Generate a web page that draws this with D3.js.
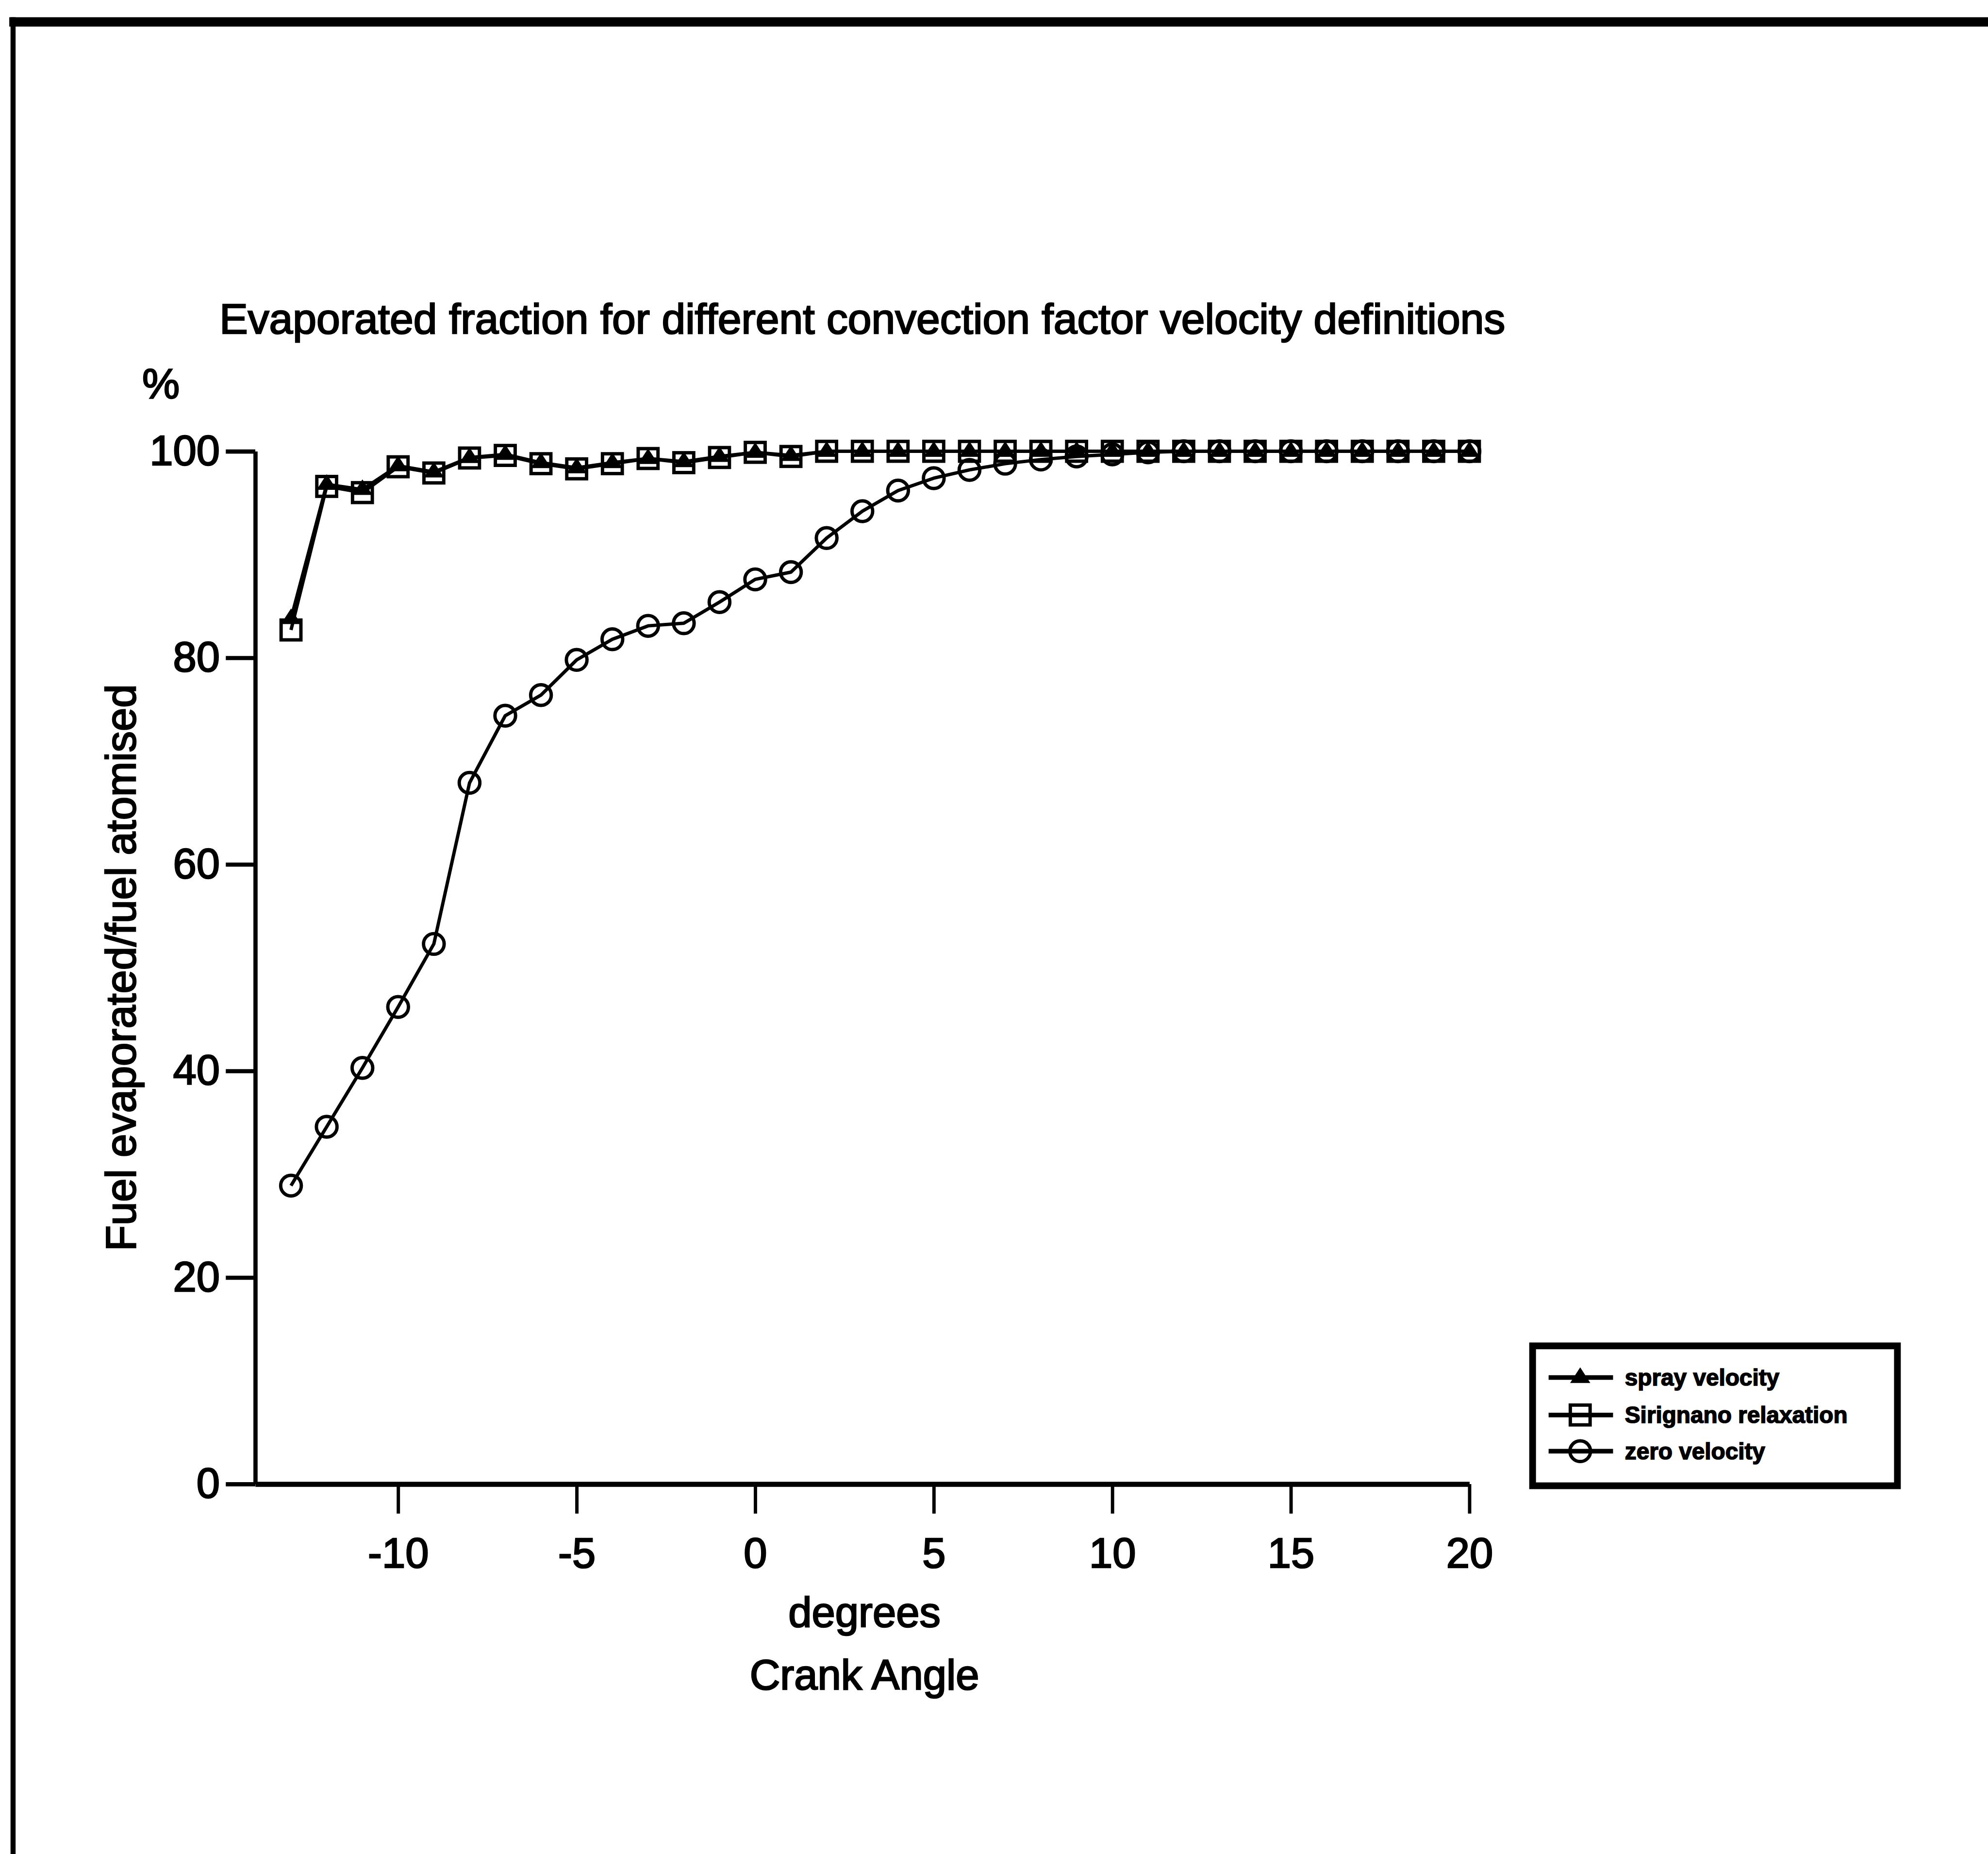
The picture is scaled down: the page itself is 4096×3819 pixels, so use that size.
<!DOCTYPE html>
<html>
<head>
<meta charset="utf-8">
<script src="https://cdn.jsdelivr.net/npm/d3@7"></script>
<style>
  html, body { margin: 0; padding: 0; background: #fff; overflow: hidden; }
</style>
</head>
<body>
<svg id="chart" width="4096" height="3819"></svg>
<script>
// Crank angle (degrees) at which each value was recorded
const crankAngle = [-13, -12, -11, -10, -9, -8, -7, -6, -5, -4, -3, -2, -1, 0, 1, 2, 3, 4, 5, 6,
                    7, 8, 9, 10, 11, 12, 13, 14, 15, 16, 17, 18, 19, 20];

// Fuel evaporated / fuel atomised (%) for each convection factor velocity definition
const sprayVelocity = [83.8, 96.8, 96.3, 98.6, 98.0, 99.4, 99.7, 98.9, 98.4, 98.9, 99.3, 99.0, 99.5, 99.9, 99.6,
                       100, 100, 100, 100, 100, 100, 100, 100, 100, 100, 100, 100, 100, 100, 100, 100, 100, 100, 100];
const sirignanoRelaxation = [82.7, 96.6, 96.0, 98.5, 97.9, 99.35, 99.6, 98.8, 98.3, 98.8, 99.3, 98.9, 99.4, 99.9, 99.5,
                             100, 100, 100, 100, 100, 100, 100, 100, 100, 100, 100, 100, 100, 100, 100, 100, 100, 100, 100];
const zeroVelocity = [28.9, 34.6, 40.3, 46.2, 52.3, 67.9, 74.4, 76.4, 79.8, 81.8, 83.1, 83.35, 85.4, 87.6, 88.3,
                      91.6, 94.2, 96.2, 97.4, 98.2, 98.8, 99.2, 99.5, 99.7, 99.9, 100, 100, 100, 100, 100, 100, 100, 100, 100];

const seriesNames = ["spray velocity", "Sirignano relaxation", "zero velocity"];

// Axis ticks
const xTicks = [-10, -5, 0, 5, 10, 15, 20];
const yTicks = [0, 20, 40, 60, 80, 100];

const titleText = "Evaporated fraction for different convection factor velocity definitions";
const yLabelText = "Fuel evaporated/fuel atomised";
const yUnitText = "%";
const xUnitText = "degrees";
const xLabelText = "Crank Angle";

// ---- layout (drawn on a 4719 x 4400 page, scaled to the window) ----
const W = 4719, H = 4400;
const k = 4096 / W;
const FONT = "'Liberation Sans', Arial, Helvetica, sans-serif";
const INK = "#000";
const TEXT_WEIGHT = 3;   // slight outline so the lettering prints heavy

const svg = d3.select("#chart");
const root = svg.append("g").attr("transform", `scale(${k})`);
root.append("rect").attr("width", W).attr("height", H).attr("fill", "#fff");

// page frame: heavy top rule and left rule
root.append("line").attr("x1", 22).attr("x2", W).attr("y1", 52).attr("y2", 52)
  .attr("stroke", INK).attr("stroke-width", 22);
root.append("line").attr("x1", 31).attr("x2", 31).attr("y1", 41).attr("y2", H)
  .attr("stroke", INK).attr("stroke-width", 12);

const x = d3.scaleLinear().domain([-14, 20]).range([606, 3488]);
const y = d3.scaleLinear().domain([0, 100]).range([3522, 1071]);

// y axis
const yAxis = root.append("g")
  .attr("transform", `translate(${x(-14)},0)`)
  .call(d3.axisLeft(y).tickValues(yTicks).tickSize(70).tickSizeOuter(0)
        .tickPadding(14).tickFormat(d => String(d)));
yAxis.attr("font-family", FONT).attr("font-size", 100);
yAxis.select(".domain").attr("stroke", INK).attr("stroke-width", 10);
yAxis.selectAll(".tick line").attr("stroke", INK).attr("stroke-width", 10);
yAxis.selectAll(".tick text").attr("fill", INK)
  .attr("stroke", INK).attr("stroke-width", TEXT_WEIGHT);

// x axis
const xAxis = root.append("g")
  .attr("transform", `translate(0,${y(0)})`)
  .call(d3.axisBottom(x).tickValues(xTicks).tickSize(70).tickSizeOuter(0)
        .tickPadding(57).tickFormat(d => String(d)));
xAxis.attr("font-family", FONT).attr("font-size", 100);
xAxis.select(".domain").attr("stroke", INK).attr("stroke-width", 12);
xAxis.selectAll(".tick line").attr("stroke", INK).attr("stroke-width", 8);
xAxis.selectAll(".tick text").attr("fill", INK)
  .attr("stroke", INK).attr("stroke-width", TEXT_WEIGHT);

// titles and labels
const txt = (t, px, py, size) => root.append("text").text(t)
  .attr("x", px).attr("y", py)
  .attr("font-family", FONT).attr("font-size", size)
  .attr("text-anchor", "middle").attr("fill", INK)
  .attr("stroke", INK).attr("stroke-width", TEXT_WEIGHT);

txt(titleText, (x.range()[0] + x.range()[1]) / 2, 791, 101);
txt(yUnitText, 382, 945, 100);
txt(xUnitText, 2052, 3861, 100);
txt(xLabelText, 2052, 4009, 100);
txt(yLabelText, 0, 0, 100)
  .attr("transform", `translate(322,${(y(0) + y(100)) / 2}) rotate(-90)`);

// marker shapes
const triPath = "M0,-24L24,13L-24,13Z";
const SQ = 47, CR = 24.5, LINE_W = 8, MARK_W = 8;

function drawMarker(g, kind, cx, cy) {
  if (kind === "triangle") {
    g.append("path").attr("d", triPath).attr("transform", `translate(${cx},${cy})`)
      .attr("fill", INK);
  } else if (kind === "square") {
    g.append("rect").attr("x", cx - SQ / 2).attr("y", cy - SQ / 2)
      .attr("width", SQ).attr("height", SQ)
      .attr("fill", "none").attr("stroke", INK).attr("stroke-width", MARK_W);
  } else {
    g.append("circle").attr("cx", cx).attr("cy", cy).attr("r", CR)
      .attr("fill", "none").attr("stroke", INK).attr("stroke-width", MARK_W);
  }
}

const series = [
  { name: seriesNames[0], values: sprayVelocity, marker: "triangle" },
  { name: seriesNames[1], values: sirignanoRelaxation, marker: "square" },
  { name: seriesNames[2], values: zeroVelocity, marker: "circle" }
];

const line = d3.line()
  .x((d, i) => x(crankAngle[i]))
  .y(d => y(d));

const plot = root.append("g");
series.forEach(s => {
  plot.append("path").datum(s.values).attr("d", line)
    .attr("fill", "none").attr("stroke", INK).attr("stroke-width", LINE_W)
    .attr("stroke-linejoin", "round");
  const mg = plot.append("g");
  s.values.forEach((v, i) => drawMarker(mg, s.marker, x(crankAngle[i]), y(v)));
});

// legend
const legend = root.append("g");
legend.append("rect").attr("x", 3638).attr("y", 3194).attr("width", 866).attr("height", 332)
  .attr("fill", "#fff").attr("stroke", INK).attr("stroke-width", 16);
const rowY = [3269, 3358, 3444];
series.forEach((s, i) => {
  const ry = rowY[i];
  legend.append("line").attr("x1", 3676).attr("x2", 3829).attr("y1", ry).attr("y2", ry)
    .attr("stroke", INK).attr("stroke-width", 11);
  drawMarker(legend, s.marker, 3751, ry);
  legend.append("text").text(s.name)
    .attr("x", 3857).attr("y", ry + 19)
    .attr("font-family", FONT).attr("font-size", 55).attr("font-weight", "bold")
    .attr("fill", INK).attr("stroke", INK).attr("stroke-width", 2);
});
</script>
</body>
</html>
